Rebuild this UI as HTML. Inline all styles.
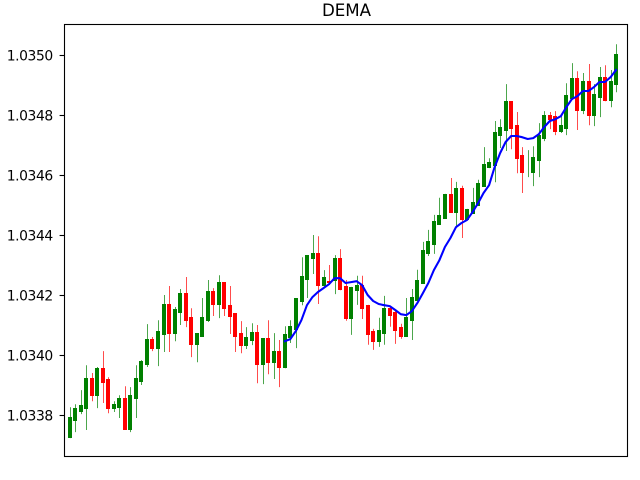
<!DOCTYPE html>
<html lang="en">
<head>
<meta charset="utf-8">
<title>DEMA</title>
<style>
html,body{margin:0;padding:0;background:#fff;width:640px;height:480px;overflow:hidden}
svg{display:block}
text{font-family:"DejaVu Sans","Liberation Sans",sans-serif;fill:#000}
</style>
</head>
<body>
<svg id="chart" xmlns="http://www.w3.org/2000/svg" width="640" height="480" viewBox="0 0 640 480">
  <rect x="0" y="0" width="640" height="480" fill="#ffffff"/>
  <text x="346.5" y="16" font-size="16.67" text-anchor="middle">DEMA</text>
  <g id="y-axis"></g>
  <g id="candles"></g>
  <polyline id="dema" fill="none" stroke="#0000ff" stroke-width="2.08" stroke-linejoin="round" stroke-linecap="square"></polyline>
  <rect x="64.5" y="24.5" width="563" height="432" fill="none" stroke="#000" stroke-width="1.1"/>
</svg>
<script>
const opens = [1.033724,1.033781,1.033811,1.033821,1.033924,1.033864,1.033957,1.033921,1.033821,1.033824,1.033857,1.033751,1.033854,1.033911,1.033967,1.034054,1.034021,1.034067,1.034171,1.034071,1.034141,1.034207,1.034127,1.034034,1.034061,1.034114,1.034214,1.034167,1.034244,1.034167,1.034141,1.034074,1.034031,1.034047,1.034077,1.033967,1.034057,1.033974,1.034014,1.033957,1.034057,1.034084,1.034177,1.034251,1.034321,1.034341,1.034231,1.034247,1.034247,1.034324,1.034231,1.034121,1.034215,1.034235,1.034168,1.034081,1.034045,1.034071,1.034158,1.034145,1.034095,1.034061,1.034115,1.034181,1.034238,1.034338,1.034368,1.034435,1.034455,1.034538,1.034475,1.034558,1.034451,1.034471,1.034498,1.034561,1.034624,1.034631,1.034731,1.034747,1.034847,1.034767,1.034667,1.034640,1.034607,1.034647,1.034721,1.034801,1.034797,1.034744,1.034754,1.034854,1.034924,1.034814,1.034914,1.034797,1.034857,1.034927,1.034847,1.034901];
const highs = [1.033827,1.033837,1.033884,1.033967,1.033941,1.033961,1.034014,1.033927,1.033847,1.033867,1.033897,1.033894,1.033967,1.033984,1.034104,1.034061,1.034117,1.034201,1.034231,1.034161,1.034221,1.034261,1.034157,1.034074,1.034191,1.034251,1.034224,1.034267,1.034244,1.034231,1.034141,1.034114,1.034094,1.034107,1.034101,1.034057,1.034117,1.034074,1.034051,1.034097,1.034117,1.034191,1.034327,1.034334,1.034401,1.034397,1.034284,1.034301,1.034334,1.034354,1.034251,1.034228,1.034265,1.034265,1.034168,1.034088,1.034125,1.034198,1.034165,1.034151,1.034105,1.034191,1.034221,1.034285,1.034378,1.034418,1.034468,1.034525,1.034538,1.034591,1.034578,1.034565,1.034488,1.034558,1.034585,1.034694,1.034657,1.034781,1.034787,1.034904,1.034847,1.034811,1.034694,1.034684,1.034697,1.034774,1.034814,1.034811,1.034814,1.034797,1.034907,1.034974,1.034947,1.034941,1.034971,1.034904,1.034961,1.034967,1.034951,1.035037];
const lows = [1.033724,1.033744,1.033804,1.033751,1.033847,1.033824,1.033841,1.033807,1.033811,1.033791,1.033751,1.033744,1.033791,1.033901,1.033961,1.034014,1.033964,1.034011,1.034011,1.034047,1.034101,1.034094,1.033994,1.033977,1.034061,1.034111,1.034131,1.034124,1.034131,1.034071,1.034011,1.034007,1.034021,1.034034,1.033907,1.033904,1.033937,1.033921,1.033894,1.033957,1.034041,1.034024,1.034167,1.034191,1.034271,1.034171,1.034224,1.034235,1.034204,1.034217,1.034115,1.034068,1.034168,1.034121,1.034035,1.034018,1.034028,1.034035,1.034095,1.034038,1.034055,1.034061,1.034051,1.034181,1.034238,1.034331,1.034338,1.034435,1.034455,1.034475,1.034425,1.034391,1.034451,1.034471,1.034498,1.034561,1.034624,1.034577,1.034691,1.034681,1.034687,1.034607,1.034541,1.034594,1.034564,1.034594,1.034714,1.034754,1.034734,1.034741,1.034734,1.034851,1.034751,1.034804,1.034767,1.034764,1.034794,1.034847,1.034827,1.034877];
const closes = [1.033794,1.033824,1.033834,1.033924,1.033864,1.033957,1.033907,1.033821,1.033837,1.033857,1.033751,1.033867,1.033924,1.033981,1.034054,1.034021,1.034081,1.034171,1.034071,1.034154,1.034207,1.034114,1.034034,1.034074,1.034127,1.034214,1.034167,1.034244,1.034154,1.034127,1.034061,1.034031,1.034061,1.034077,1.033967,1.034057,1.033974,1.034014,1.033957,1.034071,1.034097,1.034191,1.034264,1.034334,1.034341,1.034231,1.034261,1.034240,1.034324,1.034217,1.034121,1.034228,1.034235,1.034155,1.034068,1.034045,1.034085,1.034158,1.034131,1.034081,1.034061,1.034128,1.034195,1.034251,1.034351,1.034381,1.034448,1.034468,1.034538,1.034475,1.034558,1.034451,1.034488,1.034511,1.034575,1.034637,1.034644,1.034744,1.034761,1.034847,1.034754,1.034654,1.034607,1.034640,1.034661,1.034734,1.034801,1.034784,1.034744,1.034767,1.034867,1.034924,1.034814,1.034914,1.034797,1.034871,1.034927,1.034847,1.034914,1.035004];
const demaStart = 39;
const demaValues = [1.034047,1.034054,1.034081,1.034117,1.034167,1.034194,1.034211,1.034224,1.034237,1.034257,1.034257,1.034241,1.034244,1.034247,1.034234,1.034201,1.034181,1.034171,1.034167,1.034164,1.034151,1.034137,1.034134,1.034147,1.034174,1.034207,1.034241,1.034284,1.034317,1.034361,1.034391,1.034427,1.034441,1.034451,1.034477,1.034507,1.034541,1.034567,1.034627,1.034674,1.034711,1.034731,1.034731,1.034727,1.034721,1.034724,1.034737,1.034761,1.034781,1.034787,1.034797,1.034827,1.034854,1.034864,1.034881,1.034881,1.034894,1.034911,1.034911,1.034927,1.034951];
const yTickLabels = ["1.0338","1.0340","1.0342","1.0344","1.0346","1.0348","1.0350"];

const SVG_NS = 'http://www.w3.org/2000/svg';
const plot = {left: 64.5, right: 627.5, top: 24.5, bottom: 456};
const xDomain = [-0.92, 101.08];
const yDomain = [1.0336643, 1.0351027];

function xScale(i) {
  return plot.left + (i - xDomain[0]) / (xDomain[1] - xDomain[0]) * (plot.right - plot.left);
}
function yScale(p) {
  return plot.bottom - (p - yDomain[0]) / (yDomain[1] - yDomain[0]) * (plot.bottom - plot.top);
}

const yAxis = document.getElementById('y-axis');
yTickLabels.forEach(function (label) {
  const y = yScale(parseFloat(label));
  const tick = document.createElementNS(SVG_NS, 'line');
  
  
  tick.setAttribute('x1', plot.left - 4.9);
  tick.setAttribute('x2', plot.left);
  tick.setAttribute('y1', Math.round(y) + 0.5);
  tick.setAttribute('y2', Math.round(y) + 0.5);
  tick.setAttribute('stroke', '#000');
  tick.setAttribute('stroke-width', '1.1');
  yAxis.appendChild(tick);
  const text = document.createElementNS(SVG_NS, 'text');
  
  
  text.setAttribute('x', plot.left - 11.3);
  text.setAttribute('y', Math.round(y) + 5.5);
  text.setAttribute('font-size', '13.89');
  text.setAttribute('text-anchor', 'end');
  text.setAttribute('textLength', '46.5');
  text.setAttribute('lengthAdjust', 'spacing');
  text.textContent = label;
  yAxis.appendChild(text);
});

const candleLayer = document.getElementById('candles');
opens.forEach(function (open, i) {
  const close = closes[i];
  const color = close >= open ? '#008000' : '#ff0000';
  const bodyLeft = Math.round(xScale(i) - 1.9);
  const wick = document.createElementNS(SVG_NS, 'line');
  
  
  wick.setAttribute('x1', bodyLeft + 2.5);
  wick.setAttribute('x2', bodyLeft + 2.5);
  wick.setAttribute('y1', yScale(highs[i]));
  wick.setAttribute('y2', yScale(lows[i]));
  wick.setAttribute('stroke', color);
  wick.setAttribute('stroke-width', '0.7');
  candleLayer.appendChild(wick);
  if (open !== close) {
    const top = Math.round(yScale(Math.max(open, close)));
    const bottom = Math.round(yScale(Math.min(open, close)));
    const body = document.createElementNS(SVG_NS, 'rect');
    
    
    body.setAttribute('x', bodyLeft);
    body.setAttribute('y', top);
    body.setAttribute('width', 4);
    body.setAttribute('height', Math.max(1, bottom - top));
    body.setAttribute('fill', color);
    candleLayer.appendChild(body);
  }
});

document.getElementById('dema').setAttribute('points', demaValues.map(function (v, k) {
  return xScale(demaStart + k).toFixed(2) + ',' + yScale(v).toFixed(2);
}).join(' '));
</script>
</body>
</html>
